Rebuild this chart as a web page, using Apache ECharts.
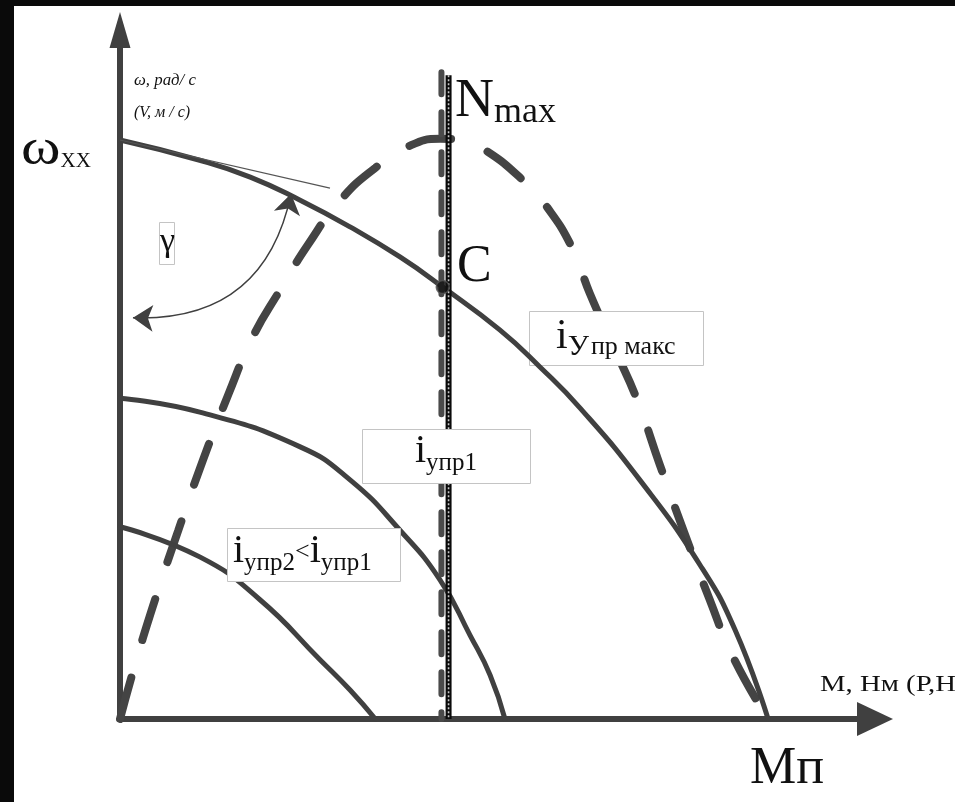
<!DOCTYPE html>
<html>
<head>
<meta charset="utf-8">
<script src="https://cdn.jsdelivr.net/npm/echarts@6/dist/echarts.min.js"></script>
<style>
  html, body { margin: 0; padding: 0; background: #fff; }
  #chart { width: 955px; height: 802px; }
</style>
</head>
<body>
<div id="chart"></div>
<script>
// Torque M in % of stall torque Mп, speed ω in % of no-load speed ωxx.

// Characteristic at maximum control signal (iУпр макс)
const curveMaxM = [0, 12.3, 20.1, 27.8, 35.5, 43.2, 49.8, 58.6, 64.8, 71, 80.2, 89.5, 94.9, 100];
const curveMaxW = [100, 96.5, 93.6, 89.6, 85.0, 79.8, 74.6, 67.2, 60.8, 53.7, 41.3, 26.6, 15.4, 0];

// Characteristic for iупр1
const curve1M = [0, 12.3, 27.8, 35.5, 43.2, 49.4, 54.0, 57.1, 59.4];
const curve1W = [55.4, 53.0, 47.0, 41.3, 32.6, 24.0, 14.5, 7.6, 0];

// Characteristic for iупр2 < iупр1
const curve2M = [0, 12.3, 21.6, 30.9, 35.5, 39.4];
const curve2W = [33.2, 28.0, 20.6, 10.2, 5.0, 0];

// Output power N = M·ω (dashed)
const powerM = [0, 2.3, 5.4, 9.0, 12.8, 16.7, 20.5, 24.7, 29.0, 34.0, 39.4, 44.3, 49.4, 52.5, 56.3, 62.5, 65.9, 69.8, 72.5, 76.5, 79.8, 83.3, 87.2, 91.0, 94.6, 100];
const powerN = [0, 9.3, 20.6, 32.6, 44.7, 56.0, 66.0, 74.1, 81.9, 89.6, 95.2, 98.8, 100.2, 100, 98.3, 92.7, 88.4, 81.3, 73.5, 63.5, 55.1, 43.9, 31.8, 20.6, 10.7, 0];

// Operating point C and the Nmax verticals
const pointC = [49.8, 74.6];
const nmaxLineM = [49.6, 111.7];   // dashed vertical: M, top
const railLineM = [50.7, 111.2];   // solid vertical: M, top

// Tangent to the max characteristic at M = 0 and the γ angle arc
const tangentM = [0, 32.4];
const tangentW = [100, 91.7];
const gammaArc = [[2.0, 69.3], [26.4, 90.7]];

const pairs = (xs, ys) => xs.map((x, i) => [x, ys[i]]);

const INK = '#404040';
const SERIF = '"Liberation Serif", "Times New Roman", serif';

function solidCurve(name, xs, ys) {
  return {
    type: 'line', name, data: pairs(xs, ys), smooth: 0.5,
    symbol: 'none', clip: false, silent: true, z: 3,
    lineStyle: { color: INK, width: 5, cap: 'round' }
  };
}

// text helper: runs of text placed on baselines, chained left to right
const mctx = document.createElement('canvas').getContext('2d');
function textRuns(x, parts, z) {
  const out = [];
  let cx = x;
  parts.forEach(p => {
    const style = p.italic ? 'italic' : 'normal';
    const sx = p.sx || 1;
    out.push({
      type: 'text', z: z || 120, silent: true,
      x: cx + (p.dx || 0), y: p.base - 0.34 * p.size, scaleX: sx,
      style: {
        x: 0, y: 0, text: p.text,
        fontFamily: SERIF, fontSize: p.size, fontStyle: style,
        fill: '#111', align: 'left', verticalAlign: 'middle'
      }
    });
    mctx.font = `${style} ${p.size}px ${SERIF}`;
    cx += mctx.measureText(p.text).width * sx + (p.dx || 0) + (p.gap || 0);
  });
  return out;
}

function box(x, y, w, h, z) {
  return {
    type: 'rect', z: z || 110, silent: true,
    shape: { x: x + 0.5, y: y + 0.5, width: w, height: h },
    style: { fill: '#fff', stroke: '#c4c4c4', lineWidth: 1 }
  };
}

const graphics = [
  // label boxes (the iУпр макс box covers the dashed curve but not the solid one)
  box(159, 222, 15, 42),
  box(529, 311, 174, 54, 2.5),
  box(362, 429, 168, 54),
  box(227, 528, 173, 53),

  // axis captions
  ...textRuns(134, [{ text: 'ω, рад/ с', size: 16, base: 86, italic: true, sx: 1.05 }]),
  ...textRuns(134, [{ text: '(V, м / с)', size: 16, base: 118, italic: true }]),
  ...textRuns(820, [{ text: 'M, Нм (Р,Н', size: 23, base: 693, sx: 1.25 }]),

  // named levels
  ...textRuns(21, [{ text: 'ω', size: 50, base: 168, sx: 1.2 }, { text: 'XX', size: 21, base: 169 }]),
  ...textRuns(160, [{ text: 'γ', size: 34, base: 254 }]),
  ...textRuns(455, [{ text: 'N', size: 54, base: 120 }, { text: 'max', size: 36, base: 125 }]),
  ...textRuns(457, [{ text: 'C', size: 52, base: 285 }]),
  ...textRuns(750, [{ text: 'Мп', size: 52, base: 787 }]),

  // characteristic labels
  ...textRuns(556, [
    { text: 'i', size: 42, base: 351 },
    { text: 'У', size: 30, base: 357, gap: 2 },
    { text: 'пр макс', size: 26, base: 356 }
  ]),
  ...textRuns(415, [
    { text: 'i', size: 40, base: 465 },
    { text: 'упр1', size: 25, base: 472 }
  ]),
  ...textRuns(233, [
    { text: 'i', size: 40, base: 565 },
    { text: 'упр2', size: 25, base: 572 },
    { text: '<', size: 26, base: 561 },
    { text: 'i', size: 40, base: 565 },
    { text: 'упр1', size: 25, base: 572 }
  ]),

  // dark frame on the left and top edges
  { type: 'rect', z: 300, silent: true, shape: { x: 0, y: 0, width: 14, height: 802 }, style: { fill: '#0a0a0a' } },
  { type: 'rect', z: 300, silent: true, shape: { x: 0, y: 0, width: 955, height: 6 }, style: { fill: '#0a0a0a' } }
];

const chart = echarts.init(document.getElementById('chart'), null, { renderer: 'canvas' });

chart.setOption({
  backgroundColor: '#fff',
  animation: false,
  grid: { left: 120, right: 80, top: 30, bottom: 83 },
  xAxis: {
    type: 'value', min: 0, max: 116.5,
    axisLine: {
      show: true, symbol: ['none', 'triangle'], symbolSize: [34, 36],
      lineStyle: { color: INK, width: 6 }
    },
    axisTick: { show: false }, axisLabel: { show: false }, splitLine: { show: false }
  },
  yAxis: {
    type: 'value', min: 0, max: 119,
    axisLine: {
      show: true, symbol: ['none', 'triangle'], symbolSize: [21, 36],
      lineStyle: { color: INK, width: 6 }
    },
    axisTick: { show: false }, axisLabel: { show: false }, splitLine: { show: false }
  },
  series: [
    solidCurve('iУпр макс', curveMaxM, curveMaxW),
    solidCurve('iупр1', curve1M, curve1W),
    solidCurve('iупр2', curve2M, curve2W),
    {
      type: 'line', name: 'N', data: pairs(powerM, powerN), smooth: 0.5, symbol: 'none',
      clip: false, silent: true, z: 2,
      lineStyle: { color: '#444', width: 8, type: [43, 39], cap: 'round' }
    },
    {
      type: 'line', name: 'tangent', data: pairs(tangentM, tangentW), symbol: 'none',
      clip: false, silent: true, z: 3,
      lineStyle: { color: '#555', width: 1.2 }
    },
    {
      type: 'line', name: 'Nmax', data: [[nmaxLineM[0], nmaxLineM[1]], [nmaxLineM[0], 0]],
      symbol: 'none', clip: false, silent: true, z: 5,
      lineStyle: { color: '#4a4a4a', width: 6, type: [22, 18], cap: 'round' }
    },
    {
      type: 'line', name: 'rail', data: [[railLineM[0], railLineM[1]], [railLineM[0], 0]],
      symbol: 'none', clip: false, silent: true, z: 6,
      lineStyle: { color: '#0a0a0a', width: 6 }
    },
    {
      type: 'line', name: 'rail-core', data: [[railLineM[0], railLineM[1]], [railLineM[0], 0]],
      symbol: 'none', clip: false, silent: true, z: 7,
      lineStyle: { color: '#c8c8c8', width: 1.6, type: [2, 2] }
    },
    {
      type: 'scatter', name: 'C', data: [pointC], symbolSize: 13, silent: true, z: 10,
      itemStyle: { color: '#111', borderColor: '#555', borderWidth: 1.5 }
    },
    {
      type: 'lines', coordinateSystem: 'cartesian2d', silent: true, z: 4,
      data: [{ coords: gammaArc }],
      symbol: ['arrow', 'arrow'], symbolSize: 20,
      lineStyle: { color: INK, width: 1.5, curveness: -0.42, opacity: 1 }
    }
  ],
  graphic: { elements: graphics }
});
</script>
</body>
</html>
